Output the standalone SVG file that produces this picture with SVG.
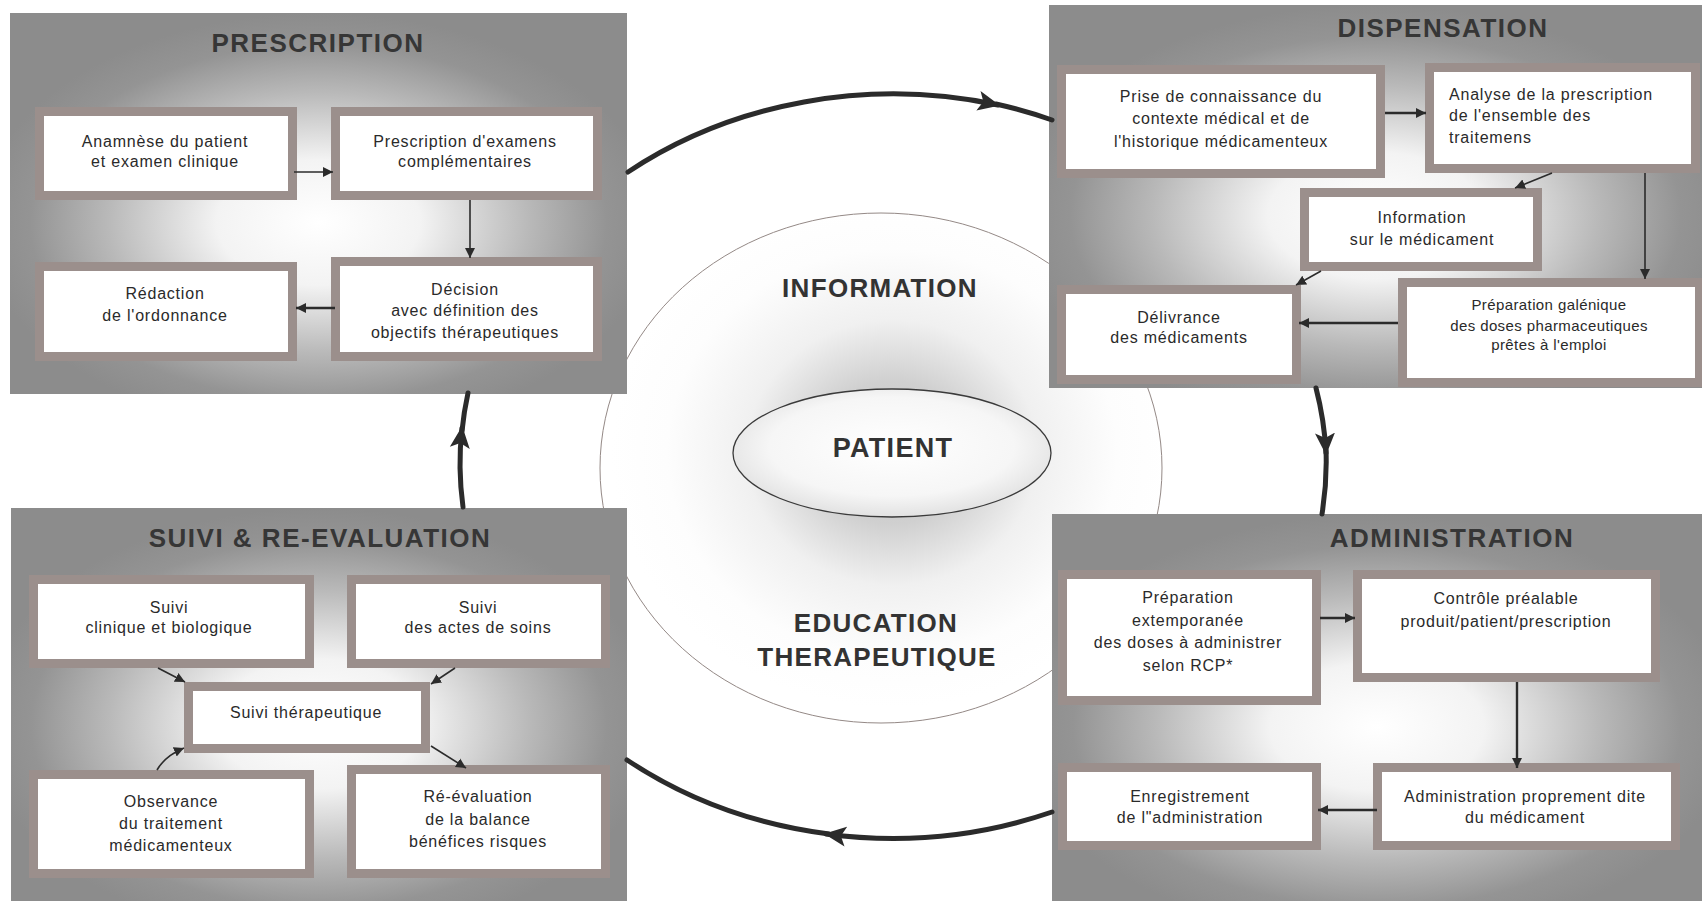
<svg xmlns="http://www.w3.org/2000/svg" width="1702" height="901" viewBox="0 0 1702 901">
<defs>
<radialGradient id="panelGrad" cx="0.5" cy="0.55" r="0.55">
<stop offset="0" stop-color="#ffffff"/>
<stop offset="0.3" stop-color="#f3f3f3"/>
<stop offset="0.62" stop-color="#b9b9b9"/>
<stop offset="0.85" stop-color="#949494"/>
<stop offset="1" stop-color="#8c8c8c"/>
</radialGradient>
<radialGradient id="infoGrad" cx="0.52" cy="0.47" r="0.5">
<stop offset="0" stop-color="#c4c4c4"/>
<stop offset="0.28" stop-color="#d0d0d0"/>
<stop offset="0.52" stop-color="#f0f0f0"/>
<stop offset="0.8" stop-color="#fdfdfd"/>
<stop offset="1" stop-color="#ffffff"/>
</radialGradient>
<radialGradient id="patGrad" cx="0.5" cy="0.45" r="0.55">
<stop offset="0" stop-color="#ffffff"/>
<stop offset="0.7" stop-color="#f6f6f6"/>
<stop offset="1" stop-color="#e2e2e2"/>
</radialGradient>
<marker id="big" markerUnits="userSpaceOnUse" markerWidth="24" markerHeight="22" refX="20" refY="11" orient="auto">
<path d="M0,1 L22,11 L0,21 L5,11 z" fill="#2b2b2b"/>
</marker>
<marker id="sm" markerUnits="userSpaceOnUse" markerWidth="12" markerHeight="12" refX="10" refY="6" orient="auto">
<path d="M0,1 L10,6 L0,11 z" fill="#2b2b2b"/>
</marker>
<style>
.panel{fill:url(#panelGrad);}
.box{fill:#ffffff;stroke:#9b8f8c;stroke-width:9;}
.t{font-family:"Liberation Sans",Arial,sans-serif;font-size:16px;letter-spacing:0.8px;fill:#2a2a2a;text-anchor:middle;}
.tl{font-family:"Liberation Sans",Arial,sans-serif;font-size:16px;letter-spacing:0.8px;fill:#2a2a2a;text-anchor:start;}
.ts{font-family:"Liberation Sans",Arial,sans-serif;font-size:15px;letter-spacing:0.4px;fill:#2a2a2a;text-anchor:middle;}
.title{font-family:"Liberation Sans",Arial,sans-serif;font-size:26px;font-weight:bold;letter-spacing:1.5px;fill:#363636;text-anchor:middle;}
.center{font-family:"Liberation Sans",Arial,sans-serif;font-size:26px;font-weight:bold;letter-spacing:1.3px;fill:#333333;text-anchor:middle;}
.cyc{fill:none;stroke:#2b2b2b;stroke-width:5;stroke-linecap:round;}
.c{fill:none;stroke:#2b2b2b;stroke-width:1.6;}
.cb{fill:none;stroke:#2b2b2b;stroke-width:2.4;}
</style>
</defs>
<rect x="0" y="0" width="1702" height="901" fill="#ffffff"/>

<g id="info-circle">
<ellipse cx="881" cy="468" rx="281" ry="255" fill="url(#infoGrad)" stroke="#948986" stroke-width="1"/>
</g>

<g id="prescription">
<rect class="panel" x="10" y="13" width="617" height="381"/>
<text class="title" x="318" y="52">PRESCRIPTION</text>
<g id="p-anamnese">
<rect class="box" x="39.5" y="111.5" width="253" height="84"/>
<text class="t" x="165" y="147">Anamnèse du patient</text>
<text class="t" x="165" y="167">et examen clinique</text>
</g>
<g id="p-examens">
<rect class="box" x="335.5" y="111.5" width="262" height="84"/>
<text class="t" x="465" y="147">Prescription d'examens</text>
<text class="t" x="465" y="167">complémentaires</text>
</g>
<g id="p-redaction">
<rect class="box" x="39.5" y="266.5" width="253" height="90"/>
<text class="t" x="165" y="299">Rédaction</text>
<text class="t" x="165" y="321">de l'ordonnance</text>
</g>
<g id="p-decision">
<rect class="box" x="335.5" y="261.5" width="262" height="95"/>
<text class="t" x="465" y="295">Décision</text>
<text class="t" x="465" y="316">avec définition des</text>
<text class="t" x="465" y="338">objectifs thérapeutiques</text>
</g>
</g>

<g id="dispensation">
<rect class="panel" x="1049" y="5" width="653" height="383"/>
<text class="title" x="1443" y="37">DISPENSATION</text>
<g id="d-prise">
<rect class="box" x="1061.5" y="69.5" width="319" height="104"/>
<text class="t" x="1221" y="102">Prise de connaissance du</text>
<text class="t" x="1221" y="124">contexte médical et de</text>
<text class="t" x="1221" y="147">l'historique médicamenteux</text>
</g>
<g id="d-analyse">
<rect class="box" x="1429.5" y="67.5" width="266" height="101"/>
<text class="tl" x="1449" y="100">Analyse de la prescription</text>
<text class="tl" x="1449" y="121">de l'ensemble des</text>
<text class="tl" x="1449" y="143">traitemens</text>
</g>
<g id="d-information">
<rect class="box" x="1304.5" y="192.5" width="233" height="74"/>
<text class="t" x="1422" y="223">Information</text>
<text class="t" x="1422" y="245">sur le médicament</text>
</g>
<g id="d-delivrance">
<rect class="box" x="1061.5" y="289.5" width="235" height="90"/>
<text class="t" x="1179" y="323">Délivrance</text>
<text class="t" x="1179" y="343">des médicaments</text>
</g>
<g id="d-preparation">
<rect class="box" x="1402.5" y="282.5" width="297" height="100"/>
<text class="ts" x="1549" y="310">Préparation galénique</text>
<text class="ts" x="1549" y="331">des doses pharmaceutiques</text>
<text class="ts" x="1549" y="350">prêtes à l'emploi</text>
</g>
</g>

<g id="suivi">
<rect class="panel" x="11" y="508" width="616" height="393"/>
<text class="title" x="320" y="547">SUIVI &amp; RE-EVALUATION</text>
<g id="s-clinique">
<rect class="box" x="33.5" y="579.5" width="276" height="84"/>
<text class="t" x="169" y="613">Suivi</text>
<text class="t" x="169" y="633">clinique et biologique</text>
</g>
<g id="s-actes">
<rect class="box" x="351.5" y="579.5" width="254" height="84"/>
<text class="t" x="478" y="613">Suivi</text>
<text class="t" x="478" y="633">des actes de soins</text>
</g>
<g id="s-therapeutique">
<rect class="box" x="188.5" y="686.5" width="237" height="62"/>
<text class="t" x="306" y="718">Suivi thérapeutique</text>
</g>
<g id="s-observance">
<rect class="box" x="33.5" y="774.5" width="276" height="99"/>
<text class="t" x="171" y="807">Observance</text>
<text class="t" x="171" y="829">du traitement</text>
<text class="t" x="171" y="851">médicamenteux</text>
</g>
<g id="s-reevaluation">
<rect class="box" x="351.5" y="769.5" width="254" height="104"/>
<text class="t" x="478" y="802">Ré-évaluation</text>
<text class="t" x="478" y="825">de la balance</text>
<text class="t" x="478" y="847">bénéfices risques</text>
</g>
</g>

<g id="administration">
<rect class="panel" x="1052" y="514" width="650" height="387"/>
<text class="title" x="1452" y="547">ADMINISTRATION</text>
<g id="a-preparation">
<rect class="box" x="1062.5" y="574.5" width="254" height="126"/>
<text class="t" x="1188" y="603">Préparation</text>
<text class="t" x="1188" y="626">extemporanée</text>
<text class="t" x="1188" y="648">des doses à administrer</text>
<text class="t" x="1188" y="671">selon RCP*</text>
</g>
<g id="a-controle">
<rect class="box" x="1357.5" y="574.5" width="298" height="103"/>
<text class="t" x="1506" y="604">Contrôle préalable</text>
<text class="t" x="1506" y="627">produit/patient/prescription</text>
</g>
<g id="a-enregistrement">
<rect class="box" x="1062.5" y="767.5" width="254" height="78"/>
<text class="t" x="1190" y="802">Enregistrement</text>
<text class="t" x="1190" y="823">de l"administration</text>
</g>
<g id="a-administration">
<rect class="box" x="1377.5" y="767.5" width="298" height="78"/>
<text class="t" x="1525" y="802">Administration proprement dite</text>
<text class="t" x="1525" y="823">du médicament</text>
</g>
</g>

<g id="patient">
<ellipse cx="892" cy="453" rx="159" ry="64" fill="url(#patGrad)" stroke="#3a3a3a" stroke-width="1.3"/>
<text class="center" x="893" y="457" style="font-size:27px">PATIENT</text>
</g>
<g id="labels">
<text class="center" x="880" y="297">INFORMATION</text>
<text class="center" x="876" y="632">EDUCATION</text>
<text class="center" x="877" y="666">THERAPEUTIQUE</text>
</g>

<g id="connectors">
<path class="cyc" d="M 628 172 A 433 372 0 0 1 998 105" marker-end="url(#big)"/>
<path class="cyc" d="M 996 104 A 433 372 0 0 1 1052 120"/>
<path class="cyc" d="M 1316 388 A 433 372 0 0 1 1326 453" marker-end="url(#big)"/>
<path class="cyc" d="M 1326 450 A 433 372 0 0 1 1322 514"/>
<path class="cyc" d="M 1052 812 A 433 372 0 0 1 826 834" marker-end="url(#big)"/>
<path class="cyc" d="M 829 834 A 433 372 0 0 1 627 760"/>
<path class="cyc" d="M 463 507 A 433 372 0 0 1 462 428" marker-end="url(#big)"/>
<path class="cyc" d="M 462 431 A 433 372 0 0 1 468 393"/>

<path class="c" d="M 294 172 L 333 172" marker-end="url(#sm)"/>
<path class="c" d="M 470 200 L 470 258" marker-end="url(#sm)"/>
<path class="cb" d="M 335 308 L 296 308" marker-end="url(#sm)"/>

<path class="cb" d="M 1385 113 L 1426 113" marker-end="url(#sm)"/>
<path class="c" d="M 1552 173 L 1515 188" marker-end="url(#sm)"/>
<path class="c" d="M 1645 173 L 1645 279" marker-end="url(#sm)"/>
<path class="c" d="M 1321 271 L 1296 285" marker-end="url(#sm)"/>
<path class="cb" d="M 1398 323 L 1299 323" marker-end="url(#sm)"/>

<path class="cb" d="M 1320 618 L 1355 618" marker-end="url(#sm)"/>
<path class="cb" d="M 1517 682 L 1517 768" marker-end="url(#sm)"/>
<path class="cb" d="M 1377 810 L 1318 810" marker-end="url(#sm)"/>

<path class="c" d="M 158 668 L 185 682" marker-end="url(#sm)"/>
<path class="c" d="M 455 668 L 431 684" marker-end="url(#sm)"/>
<path class="c" d="M 157 770 Q 165 756 184 748" marker-end="url(#sm)"/>
<path class="c" d="M 431 746 L 466 768" marker-end="url(#sm)"/>
</g>
</svg>
